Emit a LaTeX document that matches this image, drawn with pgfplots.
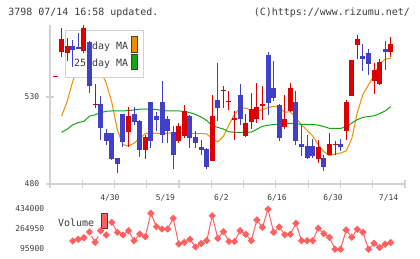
\documentclass[border=0pt]{standalone}
\usepackage{pgfplots}
\pgfplotsset{compat=1.18}
\usepackage{pgfplotstable}
\usepackage{fontspec}
\setmainfont{DejaVu Sans Mono}
\definecolor{upred}{RGB}{220,0,0}
\definecolor{downblue}{RGB}{64,64,200}
\definecolor{maorange}{RGB}{240,140,0}
\definecolor{magreen}{RGB}{20,165,20}
\definecolor{volred}{RGB}{255,96,96}
\definecolor{axgray}{RGB}{210,210,210}
\definecolor{txt}{RGB}{60,60,60}

\pgfplotstableread{
i o h l c
0 541.3 541.8 541.3 541.8
1 556 569.8 553.2 563.3
2 555.1 563.8 550.8 559.5
5 556.3 573 555.5 569.7
7 525.3 537.5 523.7 525.9
13 509.7 524.5 501.5 519
16 499.5 508.2 494.4 506.8
22 504.9 515 503.6 513.5
23 507.8 525.2 506.4 522.1
28 493.1 531.3 493 519.3
30 533.3 536.1 523.7 534.2
31 527.1 533.3 522.7 527.6
32 517 521.8 505.5 517.7
34 507.8 520.2 506.8 515.1
35 515.6 532.3 511.8 523.1
36 517.5 538.1 515.1 524.3
37 525 536.1 517 526
41 512.8 531.3 511.6 517.5
42 521.8 538.1 521.5 535.2
47 494.6 505.5 492.1 501.3
49 496.9 509.3 496.9 503
50 502.4 504.5 496.5 503
52 510.6 528.5 505.5 527.1
53 530.8 551.5 530.7 551.4
54 560.1 565.8 551.8 563.3
57 539 549.5 531.7 545.7
58 537.5 552 537 550.1
60 556 564.3 552.8 560.5
}\upT

\pgfplotstableread{
i o h l c
3 559.5 562.5 547 557.2
4 559 567 557.5 557.8
6 561.6 562 532.2 536.1
8 526 530.4 505.5 512.2
9 509.3 511.5 502.6 505
10 509.2 509.5 493.8 494.5
11 495 495.2 486.3 491.7
12 520 520.5 501 504
14 520 524.4 514 515.8
15 516.2 517 495.7 499.5
17 527 527.2 500.5 505
18 519.3 521.2 510.3 517
19 527 539.4 503.6 508
20 517.5 519 503.6 510.6
21 509.9 513.2 488.8 496.9
24 519.3 519.5 500.7 506.4
25 507 510.3 500.7 503.6
26 501.3 505.1 496.9 499.8
27 500.3 500.5 488.8 489.6
29 528.4 549.5 516 523.7
33 531.3 537.5 513.7 517.5
38 554.3 555.7 519.8 526.6
39 535.2 550.5 527.9 529.4
40 525.2 526 504.9 506.4
43 527.1 533.3 502.6 504.9
44 503 514.1 495.9 501.1
45 502.1 508 494.6 495
46 502.1 505.9 494.9 496
48 494.9 496.9 487.7 489.6
51 503 505.9 498.8 501.1
55 553.4 560.5 545.1 552
56 555.3 557.5 542.8 549
59 557.8 562 545.7 555.9
}\downT

\pgfplotstableread{
i v
1 519
2 527.5
3 539
4 548
5 555
6 558
7 553
8 545
9 538
10 527
11 511
12 502.6
13 501.8
14 503.5
15 506
16 509
17 509.2
18 509.2
19 509
20 509.2
21 509.3
22 509.6
23 509.6
24 509.2
25 509
26 509
27 508.8
28 506
29 504.2
30 507.5
31 514
32 520.2
33 523.5
34 523.6
35 522.5
36 522
37 522.6
38 524
39 524.7
40 524
41 521.3
42 521.5
43 518
44 514
45 511
46 507.6
47 502.4
48 498.6
49 496.4
50 497.2
51 497.8
52 499
53 506
54 521
55 531.5
56 537
57 542.5
58 549
59 551.8
60 552.2
}\maFive

\pgfplotstableread{
i v
1 509.7
2 511.5
3 514
4 515.3
5 516
6 519
7 519.8
8 521
9 521.8
10 522
11 522
12 522
13 522.2
14 522.6
15 523
16 523
17 523
18 522.8
19 522.3
20 522
21 522
22 522
23 521.7
24 521
25 520
26 518.5
27 516.5
28 513.5
29 512.5
30 511.6
31 510
32 509.7
33 509.7
34 509.7
35 509.8
36 511.5
37 513.2
38 513.8
39 514.2
40 514.4
41 514.8
42 514.8
43 514.5
44 514.3
45 514.3
46 514.3
47 513.8
48 513
49 512
50 512
51 512
52 512.8
53 515
54 517
55 518.3
56 518.8
57 519.2
58 520.5
59 522
60 524.5
}\maTwentyFive

\pgfplotstableread{
i v
3 163500
4 177900
5 191400
6 240000
7 152500
8 250000
9 214200
10 321600
11 237000
12 214200
13 250600
14 166100
15 222700
16 199900
17 397600
18 284400
19 264900
20 264900
21 355400
22 138200
23 152500
24 177900
25 112800
26 142400
27 166100
28 376500
29 186300
30 242100
31 159300
32 159300
33 250600
34 220100
35 166100
36 341000
37 279300
38 432300
39 237000
40 281800
41 216800
42 220100
43 313100
44 166100
45 166100
46 166100
47 270900
48 225200
49 194800
50 93400
51 93400
52 256500
53 194800
54 262400
55 237000
56 94200
57 144100
58 108600
59 136500
60 150800
}\volT

\begin{document}
\begin{tikzpicture}
\path[use as bounding box] (0,0) rectangle (420bp,259bp);
\node[anchor=base west, inner sep=0pt, font=\fontsize{10}{12}\selectfont, text=txt] at (8.3bp,243.5bp) {3798 07/14 16:58 updated.};
\node[anchor=base east, inner sep=0pt, font=\fontsize{10}{12}\selectfont, text=txt] at (410bp,243.5bp) {(C)https://www.rizumu.net/};

\begin{axis}[
  at={(50bp,75bp)}, anchor=south west,
  scale only axis, width=355bp, height=159bp,
  xmin=-1.075, xmax=62.545, ymin=480, ymax=571.4,
  axis x line*=bottom, axis y line*=left,
  axis line style={draw=axgray, line width=1.2bp, -},
  xtick={-1.075,4.708,10.49,16.274,22.057,27.84,33.624,39.407,45.19,50.974,56.757,62.54},
  xticklabels={,,,,,,,,,,,},
  extra x ticks={9.65,19.6,29.65,39.6,49.65,59.6},
  extra x tick labels={4/30,5/19,6/2,6/16,6/30,7/14},
  extra x tick style={major tick length=0pt, xticklabel style={anchor=base, inner sep=0pt, yshift=-16.6bp}},
  ytick={480,530}, yticklabels={480,530},
  yticklabel style={anchor=east, inner sep=0pt, xshift=-6.7bp},
  tick align=center, major tick length=8bp,
  tick style={draw=axgray, line width=1.2bp},
  tick label style={font=\fontsize{8}{9}\selectfont, text=txt},
]
\addplot[maorange, line width=1bp, mark=none] table[x=i,y=v] {\maFive};
\addplot[magreen, line width=1bp, mark=none] table[x=i,y=v] {\maTwentyFive};
\draw[axgray, fill=white, line width=1bp] (axis cs:1.613,541.3) rectangle (axis cs:15.77,568.1);
\node[anchor=east, inner sep=0pt, font=\fontsize{10}{12}\selectfont, text=txt] at (axis cs:12.96,558.9) {5-day MA};
\node[anchor=east, inner sep=0pt, font=\fontsize{10}{12}\selectfont, text=txt] at (axis cs:12.96,549.4) {25-day MA};
\draw[draw=black!75, fill=maorange, line width=0.8bp] (axis cs:13.44,555.7) rectangle (axis cs:14.64,564.7);
\draw[draw=black!75, fill=magreen, line width=0.8bp] (axis cs:13.44,545.7) rectangle (axis cs:14.64,554.7);
% wicks
\addplot[draw=none, mark=none, error bars/.cd, y dir=plus, y explicit, error mark=none,
  error bar style={draw=upred, line width=1bp}]
  table[x=i, y=l, y error expr=\thisrow{h}-\thisrow{l}] {\upT};
\addplot[draw=none, mark=none, error bars/.cd, y dir=plus, y explicit, error mark=none,
  error bar style={draw=downblue, line width=1bp}]
  table[x=i, y=l, y error expr=\thisrow{h}-\thisrow{l}] {\downT};
% bodies
\addplot[draw=none, mark=none, error bars/.cd, y dir=plus, y explicit, error mark=none,
  error bar style={draw=upred, line width=5bp}]
  table[x=i, y=o, y error expr=\thisrow{c}-\thisrow{o}] {\upT};
\addplot[draw=none, mark=none, error bars/.cd, y dir=plus, y explicit, error mark=none,
  error bar style={draw=downblue, line width=5bp}]
  table[x=i, y=c, y error expr=\thisrow{o}-\thisrow{c}] {\downT};
\end{axis}

\begin{axis}[
  at={(50bp,6bp)}, anchor=south west,
  scale only axis, width=355bp, height=48bp,
  xmin=-1.075, xmax=62.545, ymin=62100, ymax=467800,
  axis line style={draw=none}, xtick=\empty,
  ytick={95900,264950,434000}, yticklabels={95900,264950,434000},
  scaled y ticks=false,
  major tick length=0pt, tick style={draw=none},
  yticklabel style={anchor=east, inner sep=0pt, xshift=-5.7bp},
  tick label style={font=\fontsize{8}{9}\selectfont, text=txt},
]
\addplot[volred, line width=1bp, mark=square*, mark size=2.1bp, mark options={rotate=45, solid}] table[x=i,y=v] {\volT};
\fill[white] (axis cs:-0.36,201600) rectangle (axis cs:10.2,442400);
\node[anchor=east, inner sep=0pt, font=\fontsize{10}{12}\selectfont, text=txt] at (axis cs:6.86,318200) {Volume};
\draw[black!75, fill=volred, line width=0.8bp] (axis cs:8.06,270900) rectangle (axis cs:9.27,397600);
\end{axis}
\end{tikzpicture}
\end{document}
